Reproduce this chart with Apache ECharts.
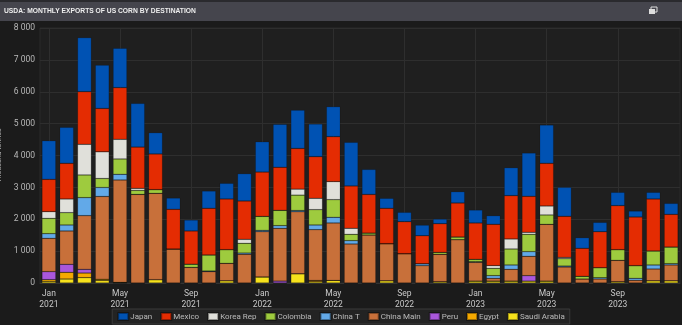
<!DOCTYPE html>
<html>
<head>
<meta charset="utf-8">
<script src="https://cdn.jsdelivr.net/npm/echarts@6/dist/echarts.min.js"></script>
<style>
html,body{margin:0;padding:0;background:#1b1b1b;}
#chart{width:682px;height:325px;}
</style>
</head>
<body>
<div id="chart"></div>
<script>
const months = ['Jan','Feb','Mar','Apr','May','Jun','Jul','Aug','Sep','Oct','Nov','Dec'];
const years = ['2021','2022','2023'];
const categories = [];
years.forEach(y => months.forEach(m => categories.push(m + '\n' + y)));

// Thousand tonnes, Jan 2021 .. Dec 2023
const saudiArabia = [50,125,167,80,0,0,105,0,0,0,70,0, 190,0,290,40,80,0,0,70,0,0,40,0, 60,60,60,60,60,0,0,0,40,0,70,70];
const egypt       = [55,210,146,40,20,0,0,0,0,0,0,0, 0,0,0,40,0,0,0,0,0,0,0,0, 0,0,0,0,0,0,0,0,0,0,0,0];
const peru        = [250,251,115,0,0,0,0,0,0,0,0,0, 0,60,0,0,0,0,0,0,0,0,0,0, 0,0,0,170,0,0,0,0,0,0,0,0];
const chinaMain   = [1046,1046,1685,2595,3212,2780,2709,1067,490,356,547,900, 1421,1655,1945,1594,1803,1224,1506,1164,920,544,860,1360, 588,86,369,607,1781,502,125,125,671,84,369,495];
const chinaT      = [146,188,565,282,178,0,0,0,0,20,0,40, 40,84,40,146,178,104,0,0,0,60,0,0, 20,84,136,146,0,30,0,40,0,62,126,40];
const colombia    = [481,387,711,282,481,125,115,0,100,503,429,305, 439,481,482,481,554,199,60,0,0,0,60,83, 75,230,502,544,293,230,84,314,335,398,439,523];
const koreaRep    = [209,429,962,837,617,63,0,0,0,0,0,125, 0,0,188,356,565,188,0,0,0,0,0,0, 0,84,314,63,282,40,0,0,0,0,0,0];
const mexico      = [1015,1119,1653,1360,1622,1297,1119,1245,1042,1464,1590,1203, 1391,1350,1276,1307,1412,1329,1213,1109,1005,878,900,1067, 1140,1297,1360,1130,1339,1290,879,1130,1381,1527,1632,1025];
const japan       = [1213,1130,1695,1360,1234,1370,669,355,345,544,492,858, 952,1349,1203,1025,941,1370,785,314,293,335,146,356, 408,272,878,1360,1203,910,335,293,418,188,209,345];

const yTicks = [0,1000,2000,3000,4000,5000,6000,7000,8000];

const seriesDefs = [
  ['Saudi Arabia', saudiArabia, '#f6e11c'],
  ['Egypt', egypt, '#f5a900'],
  ['Peru', peru, '#a957dc'],
  ['China Main', chinaMain, '#c8703a'],
  ['China T', chinaT, '#62a9e8'],
  ['Colombia', colombia, '#9ecb3e'],
  ['Korea Rep', koreaRep, '#e0e0da'],
  ['Mexico', mexico, '#e42c02'],
  ['Japan', japan, '#0052b3']
];
const legendOrder = ['Japan','Mexico','Korea Rep','Colombia','China T','China Main','Peru','Egypt','Saudi Arabia'];

const chart = echarts.init(document.getElementById('chart'), null, {renderer:'canvas'});
chart.setOption({
  backgroundColor: '#1b1b1b',
  animation: false,
  graphic: [
    {type:'rect', shape:{x:0,y:0,width:682,height:21}, style:{fill:'#45454d'}, z:-1},
    {type:'rect', shape:{x:0,y:0,width:682,height:2}, style:{fill:'#2a2a2e'}, z:-1},
    {type:'text', x:4, y:7, scaleX:0.84, style:{text:'USDA: MONTHLY EXPORTS OF US CORN BY DESTINATION', fill:'#eeeeee', font:'bold 8px "Liberation Sans", sans-serif'}},
    {type:'rect', shape:{x:649,y:9,width:6,height:5}, style:{fill:'#dddddd'}},
    {type:'rect', shape:{x:651,y:7,width:6,height:5}, style:{fill:'none', stroke:'#dddddd', lineWidth:1}}
  ],
  grid: {left: 40, right: 2, top: 28, bottom: 42, outerBoundsMode: 'none', containLabel: false, show: true, backgroundColor: '#1f1f1f', borderColor: '#2a2a2a', borderWidth: 1},
  legend: {
    data: legendOrder,
    bottom: 1, left: 'center',
    itemWidth: 10, itemHeight: 7, itemGap: 8,
    icon: 'rect',
    backgroundColor: '#232323', borderColor: '#3a3a3a', borderWidth: 1,
    padding: [3, 5],
    textStyle: {color: '#bbbbbb', fontSize: 8, fontFamily: 'Roboto, sans-serif', padding:[0,0,0,-3]}
  },
  xAxis: {
    type: 'category',
    data: categories,
    axisLine: {show: true, lineStyle: {color: '#333'}},
    axisTick: {show: false, alignWithLabel: true, interval: 3},
    splitLine: {show: true, interval: 3, alignWithLabel: true, lineStyle: {color: '#2e2e2e'}},
    axisLabel: {interval: 3, color: '#c8c8c8', fontSize: 8.5, lineHeight: 11, margin: 5, fontFamily: 'Roboto, sans-serif'}
  },
  yAxis: {
    type: 'value', min: 0, max: 8000, interval: 1000,
    name: 'Thousand tonnes', nameLocation: 'middle', nameGap: 35, nameRotate: 90,
    nameTextStyle: {color: '#aaaaaa', fontSize: 7, fontFamily: 'Roboto, sans-serif'},
    axisLine: {show: false},
    axisTick: {show: false},
    splitLine: {show: true, lineStyle: {color: '#2e2e2e'}},
    axisLabel: {color: '#b8b8b8', fontSize: 8.5, margin: 5, fontFamily: 'Roboto, sans-serif',
      formatter: v => yTicks.includes(v) ? String(v).replace(/\B(?=(\d{3})+(?!\d))/g, ' ') : ''}
  },
  series: seriesDefs.map(([name, data, color]) => ({
    name, type: 'bar', stack: 'total', data,
    barCategoryGap: '22%',
    itemStyle: {color, borderColor: 'rgba(0,0,0,0.35)', borderWidth: 0.5}
  }))
});
</script>
</body>
</html>
